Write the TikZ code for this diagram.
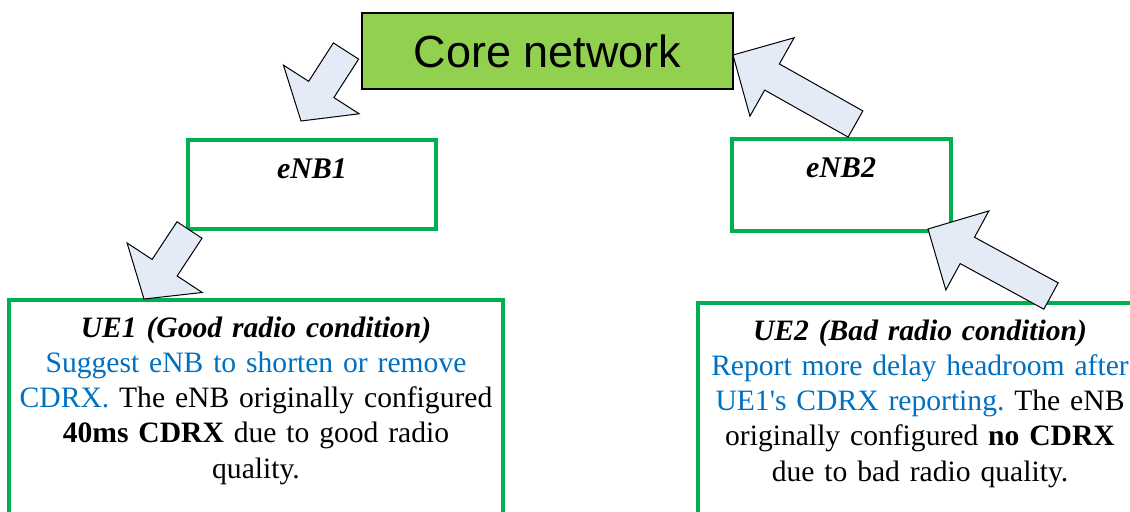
\documentclass[tikz,border=0pt]{standalone}
\usepackage{fontspec}
\setmainfont{Liberation Serif}
\newfontfamily\corefont{Liberation Sans}
\usepackage{xcolor}
\usetikzlibrary{calc,positioning}
\frenchspacing

\definecolor{boxgreen}{RGB}{0,176,80}
\definecolor{corefill}{RGB}{146,208,80}
\definecolor{arrowfill}{RGB}{228,235,247}
\definecolor{notetext}{RGB}{0,112,192}

% block arrow: tail centre, tip, head length
\newcommand{\fatarrow}[3]{%
  \coordinate (fabase) at ($(#2)!#3!(#1)$);
  \draw[blockarr] ($(#1)!\shaftw!90:(#2)$) -- ($(fabase)!\shaftw!-90:(#1)$)
    -- ($(fabase)!\headw!-90:(#1)$) -- (#2) -- ($(fabase)!\headw!90:(#1)$)
    -- ($(fabase)!\shaftw!90:(#1)$) -- ($(#1)!\shaftw!-90:(#2)$) -- cycle;
}

\begin{document}
\begin{tikzpicture}[x=0.5pt,y=-0.5pt]
  \edef\shaftw{7.5pt}
  \edef\headw{22.5pt}
  \tikzstyle{corebox}=[draw=black,line width=0.9pt,fill=corefill,minimum width=185.5pt,minimum height=38pt,inner sep=0pt,font=\corefont\fontsize{22.5pt}{27pt}\selectfont]
  \tikzstyle{enbbox}=[draw=boxgreen,line width=1.6pt,minimum width=124pt,minimum height=44.5pt,inner sep=0pt]
  \tikzstyle{uebox}=[draw=boxgreen,line width=1.6pt,minimum height=130pt,inner sep=0pt]
  \tikzstyle{enbname}=[anchor=base,inner sep=0pt,font=\fontsize{15pt}{18pt}\selectfont\bfseries\itshape]
  \tikzstyle{uetext}=[anchor=base,inner sep=0pt,align=center,font=\fontsize{14.8pt}{17.65pt}\selectfont]
  \tikzstyle{blockarr}=[draw=black,line width=0.5pt,fill=arrowfill,line join=miter]

  \clip (0,0) rectangle (1130,511);

  \node[corebox] (core) at (547.5,51) {Core network};

  \node[enbbox] (enb1) at (312,184.5) {};
  \node[enbname] (enb1t) at (312,178) {eNB1};
  \node[enbbox,minimum width=109.5pt,minimum height=46pt] (enb2) at (841.5,185) {};
  \node[enbname] (enb2t) at (841,177) {eNB2};

  \node[uebox,minimum width=247pt] (ue1) at (256,430) {};
  \node[uetext,text width=240pt] (ue1t) at (256,337) {%
    \textbf{\textit{UE1 (Good radio condition)}}\\
    \textcolor{notetext}{Suggest eNB to shorten or remove}\\
    \textcolor{notetext}{CDRX.} The eNB originally configured\\
    \textbf{40ms CDRX} due to good radio\\
    quality.};
  \node[uebox,minimum width=223.5pt] (ue2) at (921.5,433) {};
  \node[uetext,text width=215pt] (ue2t) at (920,340) {%
    \textbf{\textit{UE2 (Bad radio condition)}}\\
    \textcolor{notetext}{Report more delay headroom after}\\
    \textcolor{notetext}{UE1\textquotesingle s CDRX reporting.} The eNB\\
    originally configured \textbf{no CDRX}\\
    due to bad radio quality.};

  % arrows between the levels
  \coordinate (down1s) at (346,51);
  \coordinate (down1e) at (301,121);
  \coordinate (down2s) at (189.5,230);
  \coordinate (down2e) at (144,299);
  \coordinate (up1s) at (855.5,124);
  \coordinate (up1e) at (733,55);
  \coordinate (up2s) at (1051,296);
  \coordinate (up2e) at (928,229);

  \fatarrow{down1s}{down1e}{18.75pt}
  \fatarrow{down2s}{down2e}{18.75pt}
  \fatarrow{up1s}{up1e}{22.4pt}
  \fatarrow{up2s}{up2e}{22.4pt}
\end{tikzpicture}
\end{document}
